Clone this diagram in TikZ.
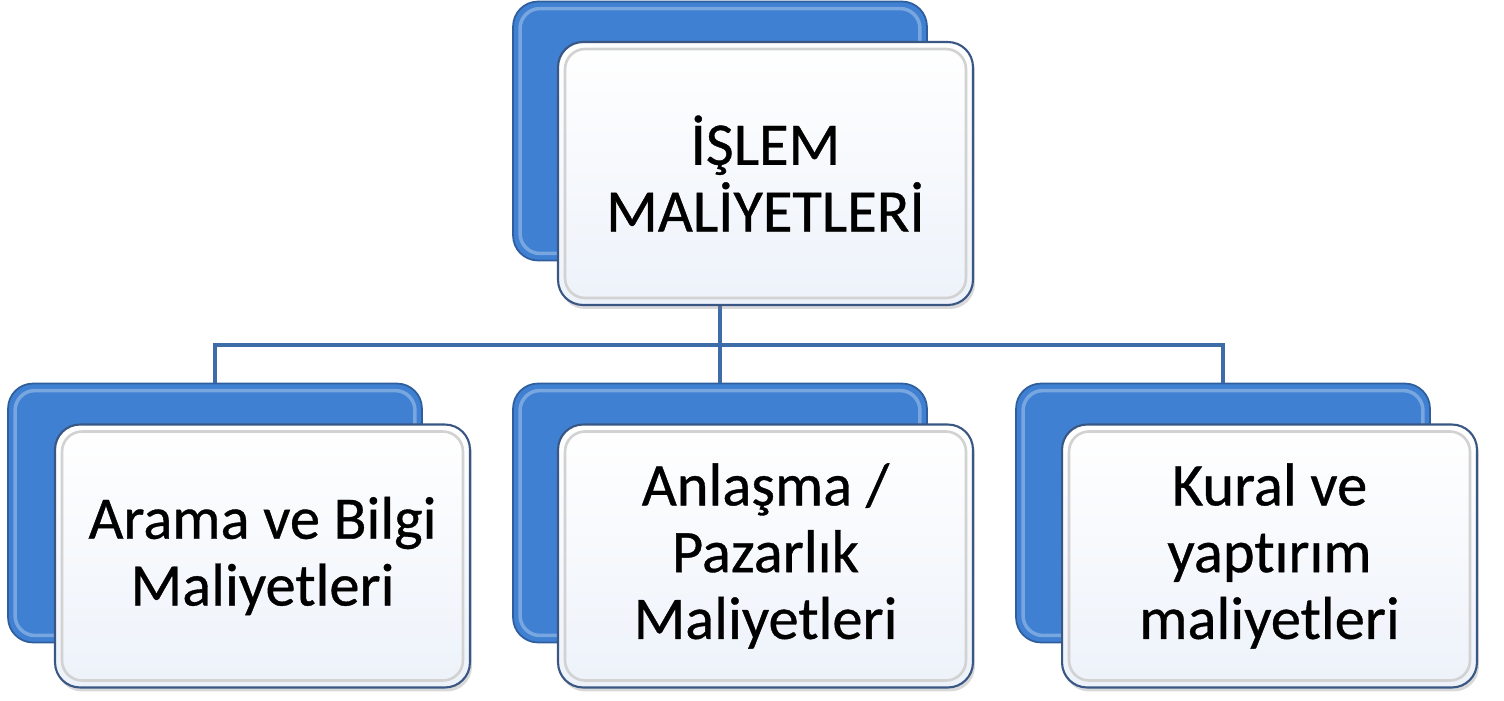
\documentclass[tikz,border=0pt]{standalone}
\usepackage{fontspec}
\setmainfont{Carlito}[Ligatures=NoCommon, FakeBold=0.6]
\usetikzlibrary{shadows}

\definecolor{boxblue}{HTML}{3F80D2}
\definecolor{boxedge}{HTML}{2F5E9E}
\definecolor{frontedge}{HTML}{3A5784}
\definecolor{frontlow}{HTML}{EDF2FA}
\definecolor{linkblue}{HTML}{3D6CA8}

\tikzset{
	backbox/.style={rounded corners=0.5cm, fill=boxblue, draw=boxedge, line width=1pt,
		minimum width=8.28cm, minimum height=5.18cm, inner sep=0pt,
		path picture={\draw[white, opacity=0.3, line width=2pt, rounded corners=0.4cm]
			([shift={(0.14cm,-0.14cm)}]path picture bounding box.north west) rectangle
			([shift={(-0.14cm,0.14cm)}]path picture bounding box.south east);}},
	frontbox/.style={rounded corners=0.5cm, top color=white, bottom color=frontlow, draw=frontedge, line width=1.2pt,
		minimum width=8.3cm, minimum height=5.26cm, inner sep=0pt, align=center,
		font=\fontsize{34.4}{38}\selectfont,
		drop shadow={opacity=0.3, shadow xshift=0.04cm, shadow yshift=-0.08cm},
		path picture={\draw[gray!35, line width=1.5pt, rounded corners=0.4cm]
			([shift={(0.14cm,-0.14cm)}]path picture bounding box.north west) rectangle
			([shift={(-0.14cm,0.14cm)}]path picture bounding box.south east);}},
	link/.style={draw=linkblue, line width=2.3pt}
}

\begin{document}
\begin{tikzpicture}[x=0.02cm, y=-0.02cm]
	\useasboundingbox (0,0) rectangle (1504,700);
	
	% blue boxes at the back
	\node (topback) at (720,131) [backbox] {};
	\node (leftback) at (215,513) [backbox] {};
	\node (midback) at (720,513) [backbox] {};
	\node (rightback) at (1223,513) [backbox] {};
	
	\coordinate (bus) at (720,345);
	
	\draw [link] (topback.south) -- (midback.north);
	\draw [link] (leftback.north) |- (bus) -| (rightback.north);
	
	% white boxes with the texts
	\node (topfront) at (765.5,173.5) [frontbox] {İŞLEM\\MALİYETLERİ};
	\node (leftfront) at (262.5,556) [frontbox] {Arama ve Bilgi\\Maliyetleri};
	\node (midfront) at (765.5,556) [frontbox] {Anlaşma /\\Pazarlık\\Maliyetleri};
	\node (rightfront) at (1269.5,556) [frontbox] {Kural ve\\yaptırım\\maliyetleri};
	
\end{tikzpicture}
\end{document}
